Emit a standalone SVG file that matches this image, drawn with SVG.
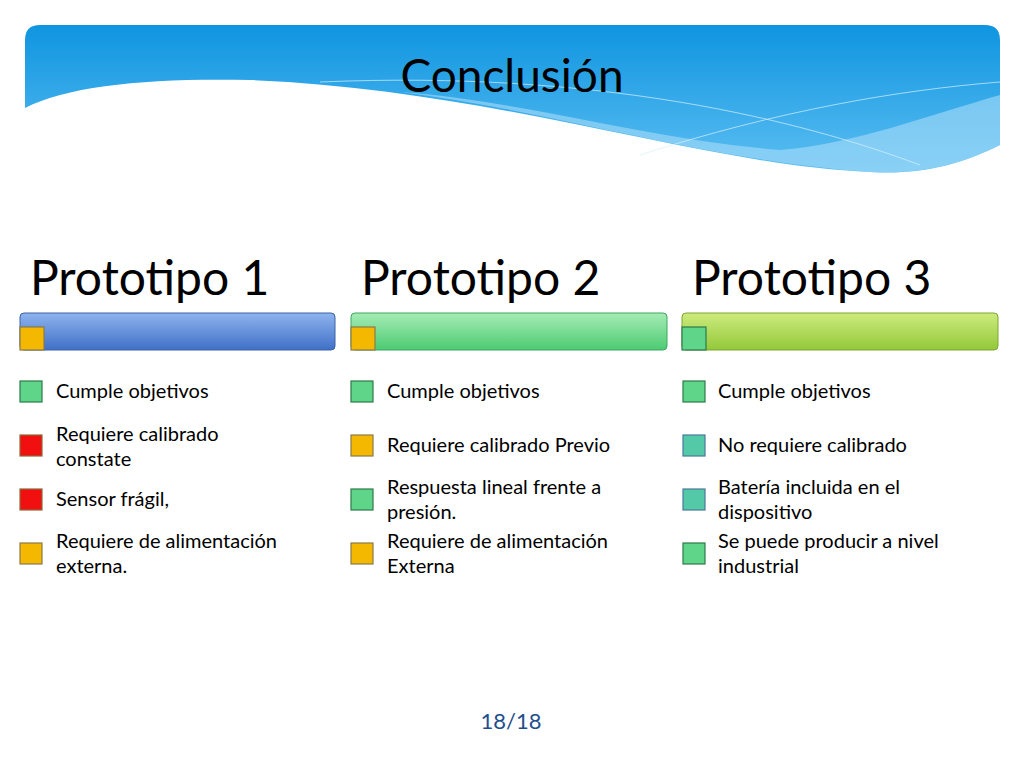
<svg xmlns="http://www.w3.org/2000/svg" width="1024" height="768" viewBox="0 0 1024 768">
<defs>
<linearGradient id="hdr" x1="0" y1="0" x2="0" y2="1"><stop offset="0" stop-color="#0f95e0"/><stop offset="1" stop-color="#5cbef2"/></linearGradient>
<linearGradient id="b1" x1="0" y1="0" x2="0" y2="1"><stop offset="0" stop-color="#8fb4ee"/><stop offset="1" stop-color="#3f6fc7"/></linearGradient>
<linearGradient id="b2" x1="0" y1="0" x2="0" y2="1"><stop offset="0" stop-color="#a6ecb5"/><stop offset="1" stop-color="#4ccb72"/></linearGradient>
<linearGradient id="b3" x1="0" y1="0" x2="0" y2="1"><stop offset="0" stop-color="#cdeb7e"/><stop offset="1" stop-color="#93c83a"/></linearGradient>
</defs>
<style>
.t{font-family:Lato,"Open Sans",sans-serif;fill:#000}
.it{font-size:20px}
.pt{font-size:48px}
.g{fill:#5fd58a;stroke:#2d7a4a;stroke-width:1.2}
.r{fill:#f20f0f;stroke:#8a6a3a;stroke-width:1.2}
.y{fill:#f5b800;stroke:#8a7a4a;stroke-width:1.2}
.c{fill:#54c9a8;stroke:#4a7a9a;stroke-width:1.2}
</style>
<rect width="1024" height="768" fill="#fff"/>
<g id="header">
<path d="M25,40 Q25,25 40,25 H985 Q1000,25 1000,40 V145 C960,165 920,175 870,172 C700,165 500,90 250,80 C150,78 70,85 25,108 Z" fill="url(#hdr)"/>
<path d="M400,92 C550,110 700,160 870,172 C930,175 970,160 1000,145 V95 C930,115 850,145 780,150 C650,140 520,100 400,92 Z" fill="#a8dcf8" opacity="0.6"/>
<path d="M320,82 C600,70 800,120 920,165" fill="none" stroke="#d6f0ff" stroke-width="1" opacity="0.7"/>
<path d="M640,155 C780,110 900,90 1000,82" fill="none" stroke="#d6f0ff" stroke-width="1" opacity="0.7"/>
<text class="t" x="512" y="92" font-size="46" text-anchor="middle">Conclusión</text>
</g>
<g id="col1">
<text class="t pt" x="30" y="295">Prototipo 1</text>
<rect x="20" y="313" width="315" height="37" rx="4" fill="url(#b1)" stroke="#3a62a8"/>
<rect class="y" x="20" y="327" width="24" height="23"/>
<rect class="g" x="20" y="381" width="22" height="21"/><text class="t it" x="56" y="398">Cumple objetivos</text>
<rect class="r" x="20" y="435" width="22" height="21"/><text class="t it" x="56" y="441">Requiere calibrado</text><text class="t it" x="56" y="466">constate</text>
<rect class="r" x="20" y="489" width="22" height="21"/><text class="t it" x="56" y="506">Sensor frágil,</text>
<rect class="y" x="20" y="543" width="22" height="21"/><text class="t it" x="56" y="548">Requiere de alimentación</text><text class="t it" x="56" y="573">externa.</text>
</g>
<g id="col2">
<text class="t pt" x="361" y="295">Prototipo 2</text>
<rect x="351" y="313" width="316" height="37" rx="4" fill="url(#b2)" stroke="#3aa860"/>
<rect class="y" x="351" y="327" width="24" height="23"/>
<rect class="g" x="351" y="381" width="22" height="21"/><text class="t it" x="387" y="398">Cumple objetivos</text>
<rect class="y" x="351" y="435" width="22" height="21"/><text class="t it" x="387" y="452">Requiere calibrado Previo</text>
<rect class="g" x="351" y="489" width="22" height="21"/><text class="t it" x="387" y="494">Respuesta lineal frente a</text><text class="t it" x="387" y="519">presión.</text>
<rect class="y" x="351" y="543" width="22" height="21"/><text class="t it" x="387" y="548">Requiere de alimentación</text><text class="t it" x="387" y="573">Externa</text>
</g>
<g id="col3">
<text class="t pt" x="692" y="295">Prototipo 3</text>
<rect x="682" y="313" width="316" height="37" rx="4" fill="url(#b3)" stroke="#7aa830"/>
<rect class="g" x="682" y="327" width="24" height="23"/>
<rect class="g" x="683" y="381" width="22" height="21"/><text class="t it" x="718" y="398">Cumple objetivos</text>
<rect class="c" x="683" y="435" width="22" height="21"/><text class="t it" x="718" y="452">No requiere calibrado</text>
<rect class="c" x="683" y="489" width="22" height="21"/><text class="t it" x="718" y="494">Batería incluida en el</text><text class="t it" x="718" y="519">dispositivo</text>
<rect class="g" x="683" y="543" width="22" height="21"/><text class="t it" x="718" y="548">Se puede producir a nivel</text><text class="t it" x="718" y="573">industrial</text>
</g>
<g id="connectors"/>
<text x="511" y="729" font-family="Lato,sans-serif" font-size="22" fill="#1f4e8c" text-anchor="middle">18/18</text>
</svg>
